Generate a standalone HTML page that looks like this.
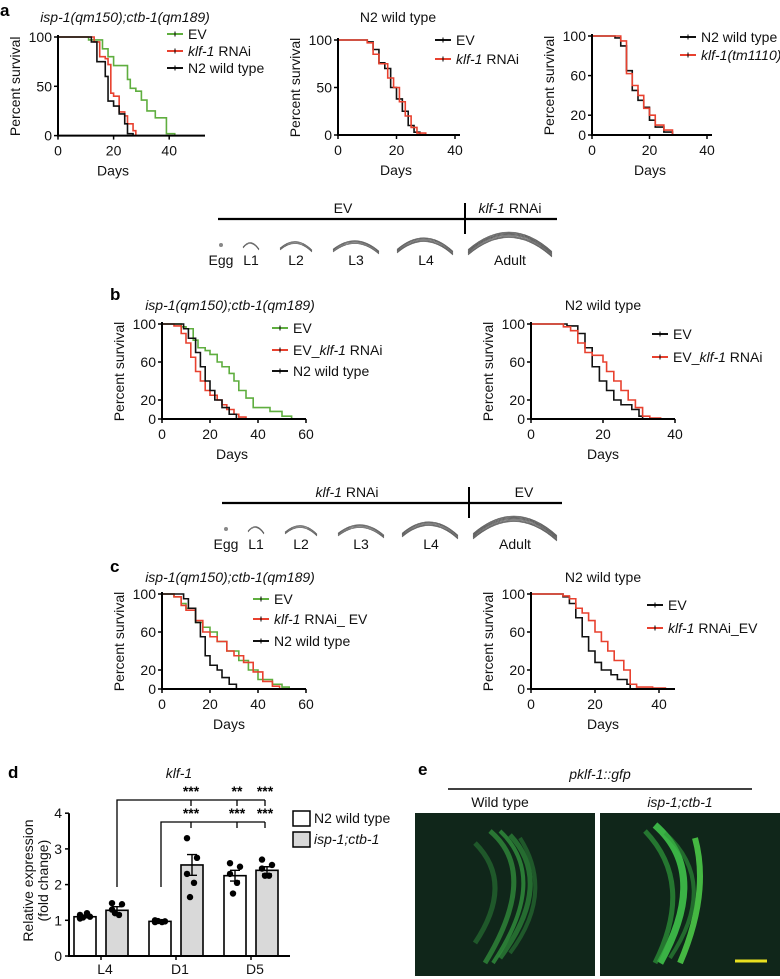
<!DOCTYPE html>
<html><head><meta charset="utf-8"><style>
html,body{margin:0;padding:0;background:#fff;}
svg{display:block;font-family:"Liberation Sans",sans-serif;}
.t{font-size:14px;fill:#111;}
.it{font-style:italic;}
.lbl{font-weight:bold;font-size:17px;}
</style></head><body>
<svg id="fig" width="780" height="979" viewBox="0 0 780 979" xmlns="http://www.w3.org/2000/svg">
<g id="root"></g>
</svg>
<script>
// ---- panel a1 data ----
const a1EvDays=[11,14,16,18,20,25,26,28,30,32,35,39,42];
const a1EvSurv=[97,97,88,80,71,57,48,45,36,25,18,2,0];
const a1KlfDays=[13,15,17,18,19,20,22,24,25,27,28];
const a1KlfSurv=[95,80,78,72,43,40,24,20,12,5,0];
const a1N2Days=[12,14,17,18,20,22,24,25,27];
const a1N2Surv=[95,75,60,35,30,22,12,2,0];
// ---- panel a2 ----
const a2EvDays=[10,12,14,16,18,20,22,24,26,28];
const a2EvSurv=[98,90,76,70,50,38,25,10,3,0];
const a2KlfDays=[10,12,14,17,19,21,23,25,27,30];
const a2KlfSurv=[97,85,75,60,50,35,20,8,2,0];
// ---- panel a3 ----
const a3N2Days=[8,10,12,14,16,18,20,22,25,28];
const a3N2Surv=[98,90,65,45,35,28,15,8,3,0];
const a3TmDays=[10,12,14,16,18,20,22,25,28];
const a3TmSurv=[95,62,50,40,27,20,10,5,0];
// ---- panel b1 ----
const b1EvDays=[8,10,13,15,18,20,23,25,28,30,32,35,38,45,50,54];
const b1EvSurv=[97,95,83,75,72,68,60,55,48,40,30,22,12,8,3,0];
const b1KlfDays=[5,8,10,12,14,16,18,20,23,25,27,30,32,35];
const b1KlfSurv=[98,90,80,65,50,40,30,25,20,15,10,5,2,0];
const b1N2Days=[9,11,14,16,18,20,22,25,28,31];
const b1N2Surv=[95,85,70,55,40,30,20,12,5,0];
// ---- panel b2 ----
const b2EvDays=[10,13,15,17,19,21,23,25,28,30,31];
const b2EvSurv=[98,90,75,55,40,30,20,15,10,3,0];
const b2KlfDays=[9,11,13,15,17,20,21,23,25,27,29,31,33,36];
const b2KlfSurv=[97,93,80,70,67,60,50,40,30,20,12,3,1,0];
// ---- panel c1 ----
const c1EvDays=[5,8,10,14,17,20,23,27,32,36,40,46,50,53];
const c1EvSurv=[97,90,85,70,65,60,50,40,30,20,10,5,2,0];
const c1KlfDays=[5,8,10,14,17,20,23,27,30,34,38,42,46,49];
const c1KlfSurv=[97,88,83,72,60,55,50,40,35,28,18,8,3,0];
const c1N2Days=[9,11,14,16,18,20,23,25,28,31];
const c1N2Surv=[95,85,70,55,35,25,20,12,5,0];
// ---- panel c2 ----
const c2EvDays=[10,12,14,16,18,20,22,25,27,30,31];
const c2EvSurv=[97,90,75,55,40,28,20,15,10,5,0];
const c2KlfDays=[10,12,14,16,18,20,22,24,26,29,31,33,38,42];
const c2KlfSurv=[98,95,85,80,72,60,50,40,30,20,5,2,1,0];
// ---- panel d ----
const dCategories=["L4","D1","D5"];
const dN2Means=[1.1,0.97,2.25];
const dIspMeans=[1.28,2.55,2.4];
const dN2Err=[0.03,0.02,0.15];
const dIspErr=[0.1,0.29,0.1];
const dN2Dots=[[1.05,1.1,1.15,1.2,1.08],[1.0,0.97,0.95,0.95,0.98],[2.6,2.5,2.3,2.05,1.75]];
const dIspDots=[[1.48,1.45,1.3,1.15,1.2],[3.3,2.75,2.3,2.05,1.65],[2.7,2.55,2.45,2.25,2.25]];
const dYTicks=[0,1,2,3,4];

const NS="http://www.w3.org/2000/svg";
const root=document.getElementById('root');
function el(tag,attrs,parent,txt){const e=document.createElementNS(NS,tag);for(const k in attrs)e.setAttribute(k,attrs[k]);if(txt!==undefined)e.textContent=txt;(parent||root).appendChild(e);return e;}
function text(x,y,s,parent,anchor,cls){const e=el('text',{x:x,y:y,'text-anchor':anchor||'middle','class':cls||'t'},parent,s);return e;}

const GREEN="#5fae3f",RED="#e8412f",BLACK="#111";

function survival(cfg){
  const g=el('g',{},root);
  
  
  const sx=d=>cfg.x0+d*cfg.pxPerDay;
  const sy=v=>cfg.y0-(v/100)*(cfg.y0-cfg.y100);
  cfg.series.forEach(s=>{
    let d="M"+sx(0)+","+sy(100);
    for(let i=0;i<s.days.length;i++){d+=" H"+sx(s.days[i])+" V"+sy(s.surv[i]);}
    const p=el('path',{d:d,fill:'none',stroke:s.color,'stroke-width':1.6},g);
    
    
  });
  const ax=el('path',{d:"M"+cfg.x0+","+(cfg.y100-2)+" V"+cfg.y0+" H"+cfg.xEnd,fill:'none',stroke:'#000','stroke-width':2},g);
  
  
  cfg.yTicks.forEach(v=>{
    el('line',{x1:cfg.x0-4,x2:cfg.x0,y1:sy(v),y2:sy(v),stroke:'#000','stroke-width':1.5},g);
    const t=text(cfg.x0-6,sy(v)+5,String(v),g,'end');
    
    
  });
  cfg.xTicks.forEach(v=>{
    el('line',{x1:sx(v),x2:sx(v),y1:cfg.y0,y2:cfg.y0+4,stroke:'#000','stroke-width':1.5},g);
    const t=text(sx(v),cfg.y0+20,String(v),g);
    
    
  });
  const xt=text(cfg.x0+cfg.daysLabelOff,cfg.y0+40,"Days",g);
  
  
  const yc=(cfg.y0+cfg.y100)/2;
  const yt=el('text',{x:0,y:0,'text-anchor':'middle','class':'t',transform:"translate("+(cfg.x0-38)+","+yc+") rotate(-90)"},g,"Percent survival");
  
  
  cfg.legend.forEach(l=>{
    el('line',{x1:l.x,x2:l.x+16,y1:l.y,y2:l.y,stroke:l.color,'stroke-width':2},g);
    el('line',{x1:l.x+8,x2:l.x+8,y1:l.y-2.5,y2:l.y+2.5,stroke:'#000','stroke-width':1},g);
    const t=el('text',{x:l.x+21,y:l.y+5,'class':'t'},g);
    
    
    l.parts.forEach(p=>{el('tspan',p[1]?{'font-style':'italic'}:{},t,p[0]);});
  });
}

function title(x,y,s,italic,name){const t=text(x,y,s,root,'middle',italic?'t it':'t');}
function plabel(x,y,s){const t=el('text',{x:x,y:y,'class':'lbl'},root,s);}

plabel(0,16,'a');
title(125,22,'isp-1(qm150);ctb-1(qm189)',true,'panel-a1-title');
title(398,22,'N2 wild type',false,'panel-a2-title');

survival({name:'panel-a1-chart',x0:58,y0:135.6,y100:37,pxPerDay:2.78,xEnd:205,yTicks:[0,50,100],xTicks:[0,20,40],daysLabelOff:55,
  series:[{days:a1EvDays,surv:a1EvSurv,color:GREEN,label:'ev-curve'},{days:a1KlfDays,surv:a1KlfSurv,color:RED,label:'klf1-curve'},{days:a1N2Days,surv:a1N2Surv,color:BLACK,label:'n2-curve'}],
  legend:[{x:167,y:34,color:GREEN,parts:[['EV',0]]},{x:167,y:51,color:RED,parts:[['klf-1',1],[' RNAi',0]]},{x:167,y:68,color:BLACK,parts:[['N2 wild type',0]]}]});
survival({name:'panel-a2-chart',x0:338,y0:135,y100:40,pxPerDay:2.925,xEnd:460,yTicks:[0,50,100],xTicks:[0,20,40],daysLabelOff:58,
  series:[{days:a2EvDays,surv:a2EvSurv,color:BLACK,label:'ev-curve'},{days:a2KlfDays,surv:a2KlfSurv,color:RED,label:'klf1-curve'}],
  legend:[{x:435,y:40,color:BLACK,parts:[['EV',0]]},{x:435,y:59,color:RED,parts:[['klf-1',1],[' RNAi',0]]}]});
survival({name:'panel-a3-chart',x0:592,y0:135,y100:36,pxPerDay:2.875,xEnd:712,yTicks:[0,20,60,100],xTicks:[0,20,40],daysLabelOff:58,
  series:[{days:a3N2Days,surv:a3N2Surv,color:BLACK,label:'n2-curve'},{days:a3TmDays,surv:a3TmSurv,color:RED,label:'tm1110-curve'}],
  legend:[{x:680,y:37,color:BLACK,parts:[['N2 wild type',0]]},{x:680,y:55,color:RED,parts:[['klf-1(tm1110)',1]]}]});

function worm(cx,cy,w,h,n,parent){
  for(let i=0;i<n;i++){
    el('path',{d:"M"+(cx-w)+","+(cy+h-i*0.9)+" Q"+cx+","+(cy-h-i*0.9)+" "+(cx+w)+","+(cy+h-i*0.9+2)},parent).setAttribute('style','fill:none;stroke:#555;stroke-width:0.7');
  }
}
function schematic(name,y,x1,x2,xd,leftTxt,rightTxt,leftX,rightX,off){
  const g=el('g',{},root);
  
  
  el('line',{x1:x1,x2:x2,y1:y,y2:y,stroke:'#000','stroke-width':2.2},g);
  el('line',{x1:xd,x2:xd,y1:y-16,y2:y+15,stroke:'#000','stroke-width':2},g);
  const lt=el('text',{x:leftX,y:y-6,'text-anchor':'middle','class':'t','font-size':'15'},g);
  leftTxt.forEach(p=>el('tspan',p[1]?{'font-style':'italic'}:{},lt,p[0]));
  const rt=el('text',{x:rightX,y:y-6,'text-anchor':'middle','class':'t','font-size':'15'},g);
  rightTxt.forEach(p=>el('tspan',p[1]?{'font-style':'italic'}:{},rt,p[0]));
  const wy=y+22, ly=y+46;
  el('circle',{cx:off+221,cy:wy+4,r:2,fill:'#888'},g);
  worm(off+251,wy+2,8,5,2,g); worm(off+296,wy+2,16,7,3,g); worm(off+356,wy+2,23,9,4,g); worm(off+425,wy,28,12,5,g); worm(off+510,wy-4,42,18,7,g);
  [['Egg',221],['L1',251],['L2',296],['L3',356],['L4',426],['Adult',510]].forEach(s=>{const t=text(off+s[1],ly,s[0],g);});
}
schematic('schematic-b',219,218,557,465,[['EV',0]],[['klf-1',1],[' RNAi',0]],343,510,0);
plabel(110,300,'b');
title(230,310,'isp-1(qm150);ctb-1(qm189)',true,'panel-b1-title');
title(603,310,'N2 wild type',false,'panel-b2-title');
survival({name:'panel-b1-chart',x0:162,y0:419,y100:324,pxPerDay:2.4,xEnd:306,yTicks:[0,20,60,100],xTicks:[0,20,40,60],daysLabelOff:70,
  series:[{days:b1EvDays,surv:b1EvSurv,color:GREEN,label:'ev-curve'},{days:b1KlfDays,surv:b1KlfSurv,color:RED,label:'klf1-curve'},{days:b1N2Days,surv:b1N2Surv,color:BLACK,label:'n2-curve'}],
  legend:[{x:272,y:328,color:GREEN,parts:[['EV',0]]},{x:272,y:350,color:RED,parts:[['EV_',0],['klf-1',1],[' RNAi',0]]},{x:272,y:371,color:BLACK,parts:[['N2 wild type',0]]}]});
survival({name:'panel-b2-chart',x0:531,y0:419,y100:324,pxPerDay:3.6,xEnd:675,yTicks:[0,20,60,100],xTicks:[0,20,40],daysLabelOff:72,
  series:[{days:b2EvDays,surv:b2EvSurv,color:BLACK,label:'ev-curve'},{days:b2KlfDays,surv:b2KlfSurv,color:RED,label:'klf1-curve'}],
  legend:[{x:652,y:334,color:BLACK,parts:[['EV',0]]},{x:652,y:357,color:RED,parts:[['EV_',0],['klf-1',1],[' RNAi',0]]}]});

schematic('schematic-c',503,222,562,469,[['klf-1',1],[' RNAi',0]],[['EV',0]],347,524,5);
plabel(110,572,'c');
title(230,582,'isp-1(qm150);ctb-1(qm189)',true,'panel-c1-title');
title(603,582,'N2 wild type',false,'panel-c2-title');
survival({name:'panel-c1-chart',x0:162,y0:689,y100:594,pxPerDay:2.4,xEnd:306,yTicks:[0,20,60,100],xTicks:[0,20,40,60],daysLabelOff:67,
  series:[{days:c1EvDays,surv:c1EvSurv,color:GREEN,label:'ev-curve'},{days:c1KlfDays,surv:c1KlfSurv,color:RED,label:'klf1-curve'},{days:c1N2Days,surv:c1N2Surv,color:BLACK,label:'n2-curve'}],
  legend:[{x:253,y:599,color:GREEN,parts:[['EV',0]]},{x:253,y:619,color:RED,parts:[['klf-1',1],[' RNAi_ EV',0]]},{x:253,y:641,color:BLACK,parts:[['N2 wild type',0]]}]});
survival({name:'panel-c2-chart',x0:531,y0:689,y100:594,pxPerDay:3.2,xEnd:675,yTicks:[0,20,60,100],xTicks:[0,20,40],daysLabelOff:72,
  series:[{days:c2EvDays,surv:c2EvSurv,color:BLACK,label:'ev-curve'},{days:c2KlfDays,surv:c2KlfSurv,color:RED,label:'klf1-curve'}],
  legend:[{x:647,y:605,color:BLACK,parts:[['EV',0]]},{x:647,y:628,color:RED,parts:[['klf-1',1],[' RNAi_EV',0]]}]});

(function(){
  const g=el('g',{},root);
  
  
  const y0=956, unit=35.7, xA=69;
  const sy=v=>y0-v*unit;
  const bw=22;
  const catX=i=>74+i*75;
  dCategories.forEach((c,i)=>{
    const xs=[catX(i),catX(i)+32];
    [[dN2Means,dN2Err,dN2Dots,'#fff','n2'],[dIspMeans,dIspErr,dIspDots,'#d9d9d9','isp']].forEach((s,k)=>{
      const x=xs[k], v=s[0][i];
      const r=el('rect',{x:x,y:sy(v),width:bw,height:v*unit,fill:s[3],stroke:'#000','stroke-width':1.6},g);
      
      
      const e=s[1][i], cx=x+bw/2;
      el('path',{d:"M"+cx+","+sy(v+e)+" V"+sy(v-e)+" M"+(cx-5)+","+sy(v+e)+" H"+(cx+5)+" M"+(cx-5)+","+sy(v-e)+" H"+(cx+5),stroke:'#000','stroke-width':1.4,fill:'none'},g);
      s[2][i].forEach((dv,j)=>{
        const dot=el('circle',{cx:cx+(j%2?5:-5)*(j>2?0.4:1),cy:sy(dv),r:3.2,fill:'#000'},g);
        
        
      });
    });
    el('line',{x1:catX(i)+27,x2:catX(i)+27,y1:y0,y2:y0+4,stroke:'#000','stroke-width':1.5},g);
    const t=text(catX(i)+31,y0+18,c,g);
    
    
  });
  el('path',{d:"M"+xA+","+sy(4)+" V"+y0+" H290",stroke:'#000','stroke-width':2,fill:'none'},g);
  dYTicks.forEach(v=>{
    el('line',{x1:xA-4,x2:xA,y1:sy(v),y2:sy(v),stroke:'#000','stroke-width':1.5},g);
    const t=text(xA-7,sy(v)+5,String(v),g,'end');
    
    
  });
  const yt=el('text',{x:0,y:0,'text-anchor':'middle','class':'t',transform:"translate(33,"+(sy(2)-4)+") rotate(-90)"},g,"Relative expression");
  
  
  const yt2=el('text',{x:0,y:0,'text-anchor':'middle','class':'t',transform:"translate(48,"+(sy(2)-4)+") rotate(-90)"},g,"(fold change)");
  
  
  el('path',{d:"M117,887 V800 H265 M191,800 V806 M237,800 V806 M265,800 V806",stroke:'#000','stroke-width':1.3,fill:'none'},g);
  el('path',{d:"M161,887 V822 H265 M191,822 V828 M237,822 V828 M265,822 V828",stroke:'#000','stroke-width':1.3,fill:'none'},g);
  [[191,796,'***'],[237,796,'**'],[265,796,'***'],[191,818,'***'],[237,818,'***'],[265,818,'***']].forEach(s=>{
    const t=el('text',{x:s[0],y:s[1],'text-anchor':'middle','font-size':'14','font-weight':'bold'},g,s[2]);
    
    
  });
  const tt=el('text',{x:179,y:778,'text-anchor':'middle','class':'t it'},g,'klf-1');
  
  
  el('rect',{x:293,y:811,width:17,height:15,fill:'#fff',stroke:'#000','stroke-width':1.5},g);
  el('rect',{x:293,y:832,width:17,height:15,fill:'#d9d9d9',stroke:'#000','stroke-width':1.5},g);
  const l1=text(314,823,'N2 wild type',g,'start');
  
  
  const l2=text(314,844,'isp-1;ctb-1',g,'start','t it');
  
  
})();
plabel(8,778,'d');

plabel(418,775,'e');
title(600,779,'pklf-1::gfp',true,'panel-e-title');
el('line',{x1:448,x2:752,y1:789,y2:789,stroke:'#000','stroke-width':1.5});
title(500,807,'Wild type',false,'wild-type-label');
title(680,807,'isp-1;ctb-1',true,'mutant-label');
</script>
<div style="position:absolute;left:415px;top:813px;width:180px;height:163px;background:#10261a;overflow:hidden">
<svg width="180" height="163">
<path d="M75,18 Q125,60 70,150" stroke="#2f8a3a" stroke-width="5" fill="none" opacity="0.8"/>
<path d="M85,18 Q135,65 78,150" stroke="#36a042" stroke-width="4" fill="none" opacity="0.7"/>
<path d="M95,22 Q140,70 85,145" stroke="#2f8a3a" stroke-width="5" fill="none" opacity="0.7"/>
<path d="M60,30 Q100,70 60,130" stroke="#2a7a35" stroke-width="5" fill="none" opacity="0.6"/>
<path d="M105,25 Q140,80 95,140" stroke="#2a7a35" stroke-width="4" fill="none" opacity="0.6"/>
</svg></div>
<div style="position:absolute;left:600px;top:813px;width:180px;height:163px;background:#10261a;overflow:hidden">
<svg width="180" height="163">
<path d="M55,12 Q110,60 60,150" stroke="#3fc24a" stroke-width="7" fill="none" opacity="0.9"/>
<path d="M45,18 Q95,70 55,150" stroke="#2f9a3a" stroke-width="5" fill="none" opacity="0.7"/>
<path d="M95,25 Q110,80 80,150" stroke="#4fd24a" stroke-width="6" fill="none" opacity="0.85"/>
<path d="M65,20 Q120,70 70,145" stroke="#2f9a3a" stroke-width="4" fill="none" opacity="0.6"/>
<line x1="135" y1="148" x2="167" y2="148" stroke="#e8e020" stroke-width="3"/>
</svg></div>
</body></html>
